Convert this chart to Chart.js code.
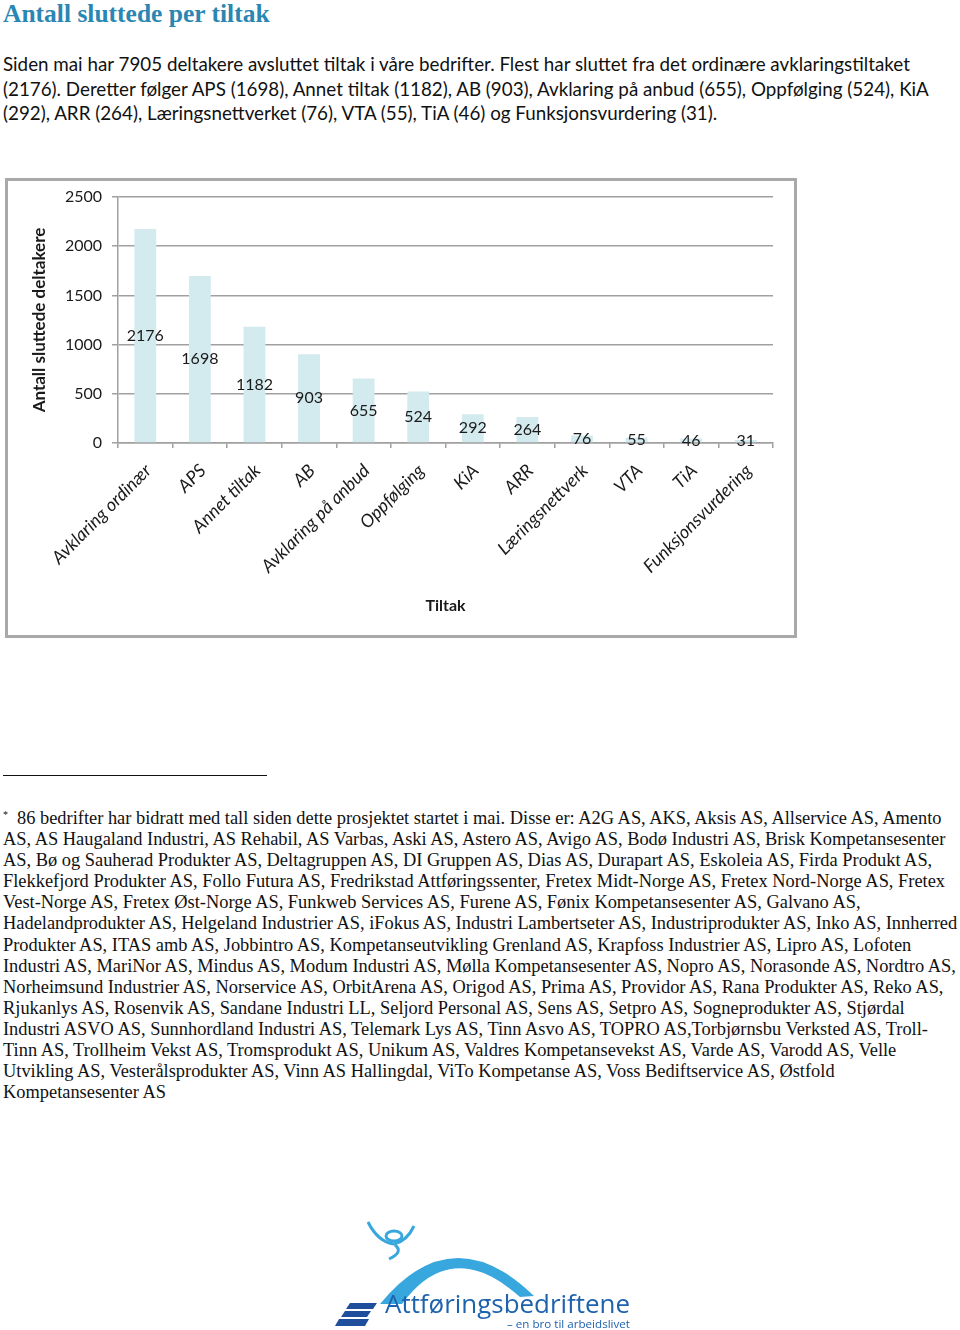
<!DOCTYPE html>
<html>
<head>
<meta charset="utf-8">
<script src="https://cdn.jsdelivr.net/npm/chart.js@4"></script>
<style>
    body { margin: 0; background: #fff; width: 960px; height: 1330px; position: relative; overflow: hidden; }
    .abs { position: absolute; white-space: nowrap; }
    h1 { position: absolute; left: 3px; top: -1px; margin: 0; font: bold 25.5px "Liberation Serif", serif; color: #2a86b2; line-height: 30px; }
    #tekst { left: 3px; top: 52px; font: 18.8px Lato, sans-serif; line-height: 24.5px; color: #111; }
    #ramme { position: absolute; left: 5px; top: 178px; width: 792px; height: 460px; box-sizing: border-box; border: 3px solid #a9a9a9; }
    #strek { position: absolute; left: 3px; top: 775px; width: 264px; height: 0; border-top: 1.5px solid #111; }
    #note { left: 3px; top: 804px; font: 18.4px "Liberation Serif", serif; line-height: 21.1px; color: #111; }
    #note sup { font-size: 10px; vertical-align: 6px; margin-right: 9px; }
</style>
</head>
<body>
<h1>Antall sluttede per tiltak</h1>
<div id="tekst" class="abs">
    <span class="linje">Siden mai har 7905 deltakere avsluttet tiltak i våre bedrifter. Flest har sluttet fra det ordinære avklaringstiltaket</span><br>
    <span class="linje">(2176). Deretter følger APS (1698), Annet tiltak (1182), AB (903), Avklaring på anbud (655), Oppfølging (524), KiA</span><br>
    <span class="linje">(292), ARR (264), Læringsnettverket (76), VTA (55), TiA (46) og Funksjonsvurdering (31).</span>
</div>

<div id="ramme"><canvas id="grafica" width="786" height="454"></canvas></div>

<div id="strek"></div>
<div id="note" class="abs">
<sup>*</sup>86 bedrifter har bidratt med tall siden dette prosjektet startet i mai. Disse er: A2G AS, AKS, Aksis AS, Allservice AS, Amento<br>
AS, AS Haugaland Industri, AS Rehabil, AS Varbas, Aski AS, Astero AS, Avigo AS, Bodø Industri AS, Brisk Kompetansesenter<br>
AS, Bø og Sauherad Produkter AS, Deltagruppen AS, DI Gruppen AS, Dias AS, Durapart AS, Eskoleia AS, Firda Produkt AS,<br>
Flekkefjord Produkter AS, Follo Futura AS, Fredrikstad Attføringssenter, Fretex Midt-Norge AS, Fretex Nord-Norge AS, Fretex<br>
Vest-Norge AS, Fretex Øst-Norge AS, Funkweb Services AS, Furene AS, Fønix Kompetansesenter AS, Galvano AS,<br>
Hadelandprodukter AS, Helgeland Industrier AS, iFokus AS, Industri Lambertseter AS, Industriprodukter AS, Inko AS, Innherred<br>
Produkter AS, ITAS amb AS, Jobbintro AS, Kompetanseutvikling Grenland AS, Krapfoss Industrier AS, Lipro AS, Lofoten<br>
Industri AS, MariNor AS, Mindus AS, Modum Industri AS, Mølla Kompetansesenter AS, Nopro AS, Norasonde AS, Nordtro AS,<br>
Norheimsund Industrier AS, Norservice AS, OrbitArena AS, Origod AS, Prima AS, Providor AS, Rana Produkter AS, Reko AS,<br>
Rjukanlys AS, Rosenvik AS, Sandane Industri LL, Seljord Personal AS, Sens AS, Setpro AS, Sogneprodukter AS, Stjørdal<br>
Industri ASVO AS, Sunnhordland Industri AS, Telemark Lys AS, Tinn Asvo AS, TOPRO AS,Torbjørnsbu Verksted AS, Troll-<br>
Tinn AS, Trollheim Vekst AS, Tromsprodukt AS, Unikum AS, Valdres Kompetansevekst AS, Varde AS, Varodd AS, Velle<br>
Utvikling AS, Vesterålsprodukter AS, Vinn AS Hallingdal, ViTo Kompetanse AS, Voss Bediftservice AS, Østfold<br>
Kompetansesenter AS
</div>

<!-- logo, grovt tegnet -->
<svg class="abs" style="left:0;top:0" width="960" height="1330">
    <path d="M380,1304 Q452,1216 534,1296 L520,1297 Q452,1236 402,1304 Z" fill="#38a7de"/>
    <ellipse cx="394" cy="1236" rx="8" ry="5" fill="none" stroke="#38a7de" stroke-width="3"/>
    <path d="M368,1222 Q378,1242 394,1244 Q407,1241 414,1226" fill="none" stroke="#38a7de" stroke-width="3"/>
    <path d="M395,1245 Q404,1252 389,1259" fill="none" stroke="#38a7de" stroke-width="3"/>
    <path d="M350,1303 L377,1303 L373,1309 L346,1309 Z" fill="#1f4f9c"/>
    <path d="M345,1311 L371,1311 L367,1317 L341,1317 Z" fill="#1f4f9c"/>
    <path d="M339,1319 L369,1319 L365,1326 L335,1326 Z" fill="#1f4f9c"/>
    <text x="385" y="1313" font-family="Open Sans" font-size="26" fill="#1d62ad" textLength="245" lengthAdjust="spacingAndGlyphs">Attføringsbedriftene</text>
    <text x="507" y="1328" font-family="Open Sans" font-size="11" fill="#1d62ad" textLength="123" lengthAdjust="spacingAndGlyphs">– en bro til arbeidslivet</text>
</svg>

<script>
const tiltak = ['Avklaring ordinær', 'APS', 'Annet tiltak', 'AB', 'Avklaring på anbud', 'Oppfølging',
    'KiA', 'ARR', 'Læringsnettverk', 'VTA', 'TiA', 'Funksjonsvurdering'];
const sluttede = [2176, 1698, 1182, 903, 655, 524, 292, 264, 76, 55, 46, 31];
const yMin = 0;
const yMax = 2500;
const ySteg = 500;

const gra = '#a0a0a0';
const tekstFarge = '#1a1a1a';

// verdiene midt i hver søyle
const etiketter = {
    id: 'etiketter',
    afterDatasetsDraw(chart) {
        const ctx = chart.ctx;
        const meta = chart.getDatasetMeta(0);
        ctx.save();
        ctx.font = '16px Lato';
        ctx.fillStyle = tekstFarge;
        ctx.textAlign = 'center';
        ctx.textBaseline = 'middle';
        meta.data.forEach((bar, i) => {
            ctx.fillText(sluttede[i], bar.x, (bar.y + bar.base) / 2);
        });
        ctx.restore();
    }
};

window.onload = function () {
    const ctx = document.getElementById('grafica').getContext('2d');
    new Chart(ctx, {
        type: 'bar',
        data: {
            labels: tiltak,
            datasets: [{
                data: sluttede,
                backgroundColor: '#d3eaee',
                barPercentage: 0.4,
                categoryPercentage: 1
            }]
        },
        options: {
            responsive: false,
            animation: false,
            layout: { padding: { left: 0, right: 21, top: 16, bottom: 0 } },
            plugins: { legend: { display: false }, tooltip: { enabled: false } },
            scales: {
                x: {
                    afterFit: (scale) => { scale.height = 192; },
                    grid: { drawOnChartArea: false, drawTicks: true, tickLength: 5, color: gra, lineWidth: 1.5 },
                    border: { color: gra, width: 1.5 },
                    ticks: {
                        minRotation: 45, maxRotation: 45, padding: 12, labelOffset: 3,
                        color: tekstFarge,
                        font: { family: 'Lato', size: 18, style: 'italic' }
                    },
                    title: {
                        display: true, text: 'Tiltak', color: tekstFarge,
                        font: { family: 'Lato', size: 16, weight: 'bold' },
                        padding: { top: 4, bottom: 20 }
                    }
                },
                y: {
                    min: yMin, max: yMax,
                    afterFit: (scale) => {
                        scale.width = 110;
                        scale.paddingTop = 0;
                        scale.paddingBottom = 0;
                    },
                    grid: { color: gra, lineWidth: 1.5, tickLength: 6 },
                    border: { color: gra, width: 1.5 },
                    ticks: {
                        stepSize: ySteg, padding: 10, color: tekstFarge,
                        font: { family: 'Lato', size: 16 },
                        callback: (v) => String(v)
                    },
                    title: {
                        display: true, text: 'Antall sluttede deltakere', color: tekstFarge,
                        font: { family: 'Lato', size: 17, weight: 'bold' },
                        padding: { top: 21, bottom: 0 }
                    }
                }
            }
        },
        plugins: [etiketter]
    });
};
</script>
</body>
</html>
